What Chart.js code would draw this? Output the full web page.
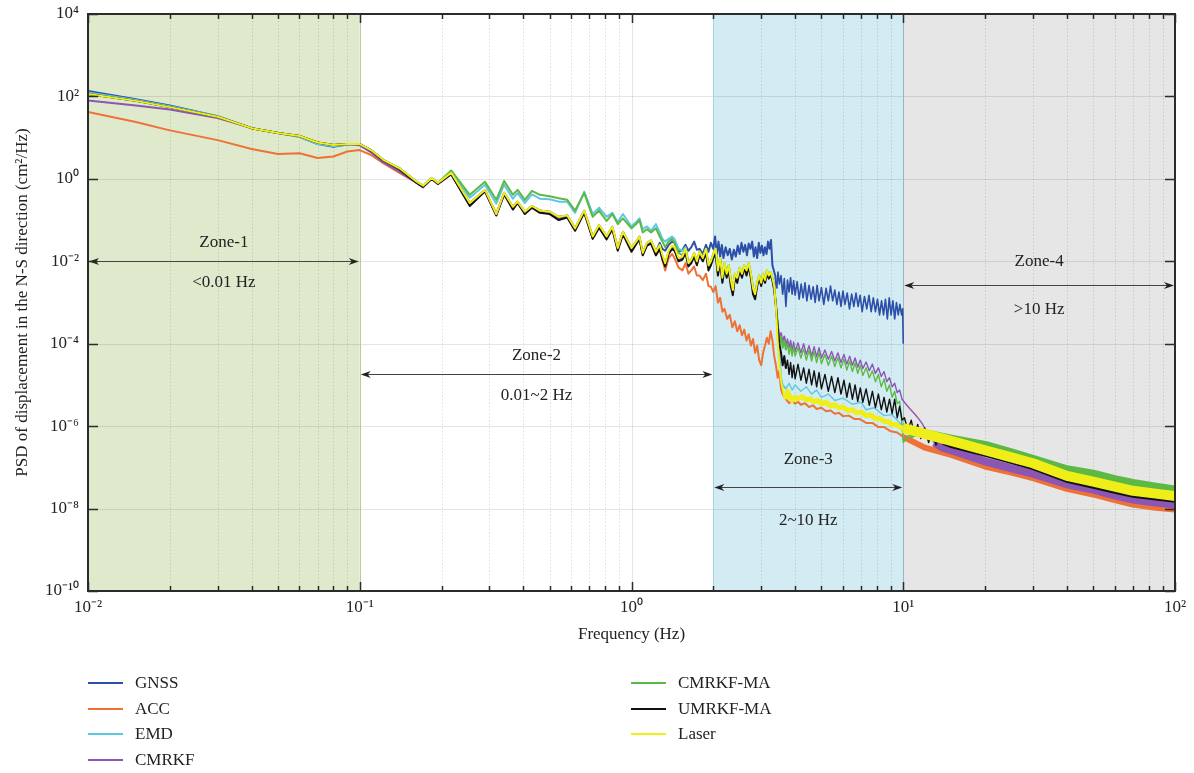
<!DOCTYPE html>
<html><head><meta charset="utf-8">
<script src="https://cdn.jsdelivr.net/npm/chart.js@4.4.0/dist/chart.umd.min.js"></script>
<style>
html,body{margin:0;padding:0;background:#fff;}
#wrap{position:relative;width:1194px;height:773px;overflow:hidden;}
canvas{position:absolute;left:0;top:0;}
.lg{position:absolute;font-family:"Liberation Serif","Times New Roman",serif;font-size:17px;color:#222;line-height:20px;white-space:nowrap;}
.sw{position:absolute;height:2px;width:35px;}
</style></head><body>
<div id="wrap"><canvas id="c" width="1194" height="773"></canvas><div id="legend"></div></div>
<script>
// ---------- DATA (frequency in Hz, PSD in cm^2/Hz) ----------
const SERIES_NAMES = ['GNSS','ACC','EMD','CMRKF','CMRKF-MA','UMRKF-MA','Laser'];
const SERIES_COLORS = ['#2c4fa8','#ee7236','#5ec8e2','#8c56b4','#5cb944','#111111','#f0ee18'];

const X_TICKS = [0.01,0.1,1,10,100];
const X_TICK_LABELS = ['10⁻²','10⁻¹','10⁰','10¹','10²'];
const Y_TICKS = [1e-10,1e-8,1e-6,1e-4,1e-2,1,1e2,1e4];
const Y_TICK_LABELS = ['10⁻¹⁰','10⁻⁸','10⁻⁶','10⁻⁴','10⁻²','10⁰','10²','10⁴'];

const ZONES = [
  {name:'Zone-1', range:'<0.01 Hz', from:0.01, to:0.1, arrowY:1e-2},
  {name:'Zone-2', range:'0.01~2 Hz', from:0.1, to:2, arrowY:1.84e-5},
  {name:'Zone-3', range:'2~10 Hz', from:2, to:10, arrowY:3.4e-8},
  {name:'Zone-4', range:'>10 Hz', from:10, to:100, arrowY:2.73e-3}
];

const GNSS = [
[0.01,135],[0.015,85],[0.02,60],[0.03,33],[0.04,17],[0.05,13],[0.06,10.5],[0.07,7],[0.08,6],[0.09,6.8],[0.1,7],
[0.11,5],[0.122,2.9],[0.14,1.8],[0.162,0.85],[0.171,0.68],[0.184,1.05],[0.194,0.8],[0.217,1.4],[0.254,0.26],[0.289,0.54],[0.318,0.14],[0.34,0.46],[0.366,0.21],[0.381,0.28],[0.405,0.16],[0.43,0.22],[0.46,0.17],[0.5,0.16],[0.54,0.12],[0.58,0.13],[0.62,0.063],[0.67,0.17],[0.72,0.04],[0.76,0.076],[0.81,0.04],[0.85,0.069],[0.89,0.021],[0.93,0.052],
[1.0,0.021],[1.04,0.03],[1.07,0.04],[1.1,0.016],[1.14,0.028],[1.18,0.032],[1.23,0.017],[1.27,0.028],[1.3,0.02],[1.33,0.018],[1.37,0.025],[1.41,0.03],[1.44,0.028],[1.49,0.017],[1.54,0.019],[1.58,0.025],[1.62,0.018],[1.66,0.022],[1.7,0.03],[1.74,0.019],[1.78,0.02],[1.83,0.015],[1.88,0.025],[1.92,0.017],[1.96,0.028],[2.0,0.02],
[2.03,0.04],[2.06,0.015],[2.09,0.03],[2.12,0.013],[2.15,0.025],[2.18,0.012],[2.22,0.022],[2.26,0.014],[2.3,0.02],[2.34,0.011],[2.38,0.019],[2.42,0.013],[2.46,0.024],[2.5,0.015],[2.54,0.028],[2.58,0.017],[2.62,0.025],[2.66,0.014],[2.7,0.027],[2.74,0.02],[2.78,0.03],[2.82,0.013],[2.86,0.022],[2.9,0.012],[2.94,0.028],[2.98,0.016],[3.02,0.024],[3.06,0.014],[3.1,0.022],[3.14,0.015],[3.18,0.03],[3.22,0.02],[3.26,0.033],[3.3,0.008],[3.34,0.006],
[3.38,0.0045],[3.42,0.0022],[3.46,0.0055],[3.5,0.0028],[3.55,0.0045],[3.6,0.0016],[3.65,0.0038],[3.7,0.0008],[3.75,0.0035],[3.8,0.0018],[3.85,0.004],[3.9,0.0016],[3.95,0.0034],[4.0,0.0015],[4.07,0.0032],[4.14,0.0012],[4.21,0.0028],[4.28,0.0013],[4.35,0.003],[4.42,0.0011],[4.5,0.0026],[4.58,0.0012],[4.66,0.0024],[4.74,0.001],[4.82,0.0026],[4.9,0.0011],[5.0,0.0023],[5.1,0.0009],[5.2,0.0022],[5.3,0.0011],[5.4,0.0025],[5.5,0.0011],[5.6,0.002],[5.7,0.0009],[5.8,0.0018],[5.9,0.0008],[6.0,0.0019],[6.1,0.0009],[6.22,0.0017],[6.34,0.0007],[6.46,0.0016],[6.58,0.0008],[6.7,0.0017],[6.82,0.0008],[6.94,0.0015],[7.06,0.0006],[7.2,0.0014],[7.34,0.0007],[7.48,0.0015],[7.62,0.0006],[7.76,0.0013],[7.9,0.0006],[8.04,0.0012],[8.18,0.0005],[8.32,0.0011],[8.46,0.0005],[8.6,0.0012],[8.74,0.0004],[8.88,0.0013],[9.02,0.0005],[9.16,0.0011],[9.3,0.0004],[9.44,0.001],[9.58,0.0005],[9.72,0.0009],[9.86,0.0005],[9.95,0.0007],[10,0.0001]
];

const ACC = [
[0.01,42],[0.015,24],[0.02,15],[0.03,8.7],[0.04,5.3],[0.05,4],[0.06,4.2],[0.07,3.2],[0.08,3.5],[0.09,4.6],[0.1,5],
[0.11,3.8],[0.122,2.4],[0.14,1.4],[0.162,0.8],[0.171,0.64],[0.184,1.0],[0.194,0.76],[0.217,1.3],[0.254,0.24],[0.289,0.5],[0.318,0.14],[0.34,0.44],[0.366,0.2],[0.381,0.27],[0.405,0.15],[0.43,0.21],[0.46,0.16],[0.5,0.15],[0.54,0.11],[0.58,0.12],[0.62,0.06],[0.67,0.16],[0.72,0.038],[0.76,0.072],[0.81,0.038],[0.85,0.065],[0.89,0.02],[0.93,0.05],
[1.0,0.02],[1.04,0.028],[1.07,0.036],[1.1,0.015],[1.14,0.025],[1.18,0.028],[1.23,0.014],[1.27,0.02],[1.3,0.011],[1.33,0.006],[1.37,0.012],[1.41,0.015],[1.44,0.012],[1.49,0.007],[1.54,0.006],[1.58,0.009],[1.62,0.005],[1.66,0.006],[1.7,0.0075],[1.74,0.0045],[1.78,0.0045],[1.83,0.0035],[1.88,0.005],[1.92,0.0025],[1.96,0.0024],[2.0,0.0018],
[2.04,0.0025],[2.08,0.001],[2.12,0.0013],[2.16,6e-4],[2.2,7e-4],[2.25,4e-4],[2.3,5e-4],[2.35,2.5e-4],[2.4,3.5e-4],[2.45,2e-4],[2.5,2.8e-4],[2.55,1.6e-4],[2.6,2.2e-4],[2.65,1.2e-4],[2.7,1.7e-4],[2.75,9e-5],[2.8,1.3e-4],[2.85,6e-5],[2.9,9e-5],[2.95,4e-5],[3.0,3e-5],[3.05,6e-5],[3.1,9e-5],[3.15,1.4e-4],[3.2,1e-4],[3.25,2e-4],[3.3,1.2e-4],[3.35,5e-5],[3.4,3e-5],[3.45,1.5e-5],[3.5,2.2e-5],[3.55,8e-6],[3.6,6e-6],[3.7,4.5e-6],
[3.8,3.6e-6],[3.9,4.2e-6],[4.0,3.5e-6],[4.1,3.9e-6],[4.2,3.3e-6],[4.35,3.6e-6],[4.5,2.9e-6],[4.65,3.2e-6],[4.8,2.6e-6],[5.0,2.8e-6],[5.2,2.3e-6],[5.4,2.4e-6],[5.6,2e-6],[5.8,2.1e-6],[6.0,1.75e-6],[6.3,1.8e-6],[6.6,1.5e-6],[6.9,1.5e-6],[7.3,1.2e-6],[7.7,1.2e-6],[8.1,9.5e-7],[8.5,9.5e-7],[9.0,7.5e-7],[9.5,7e-7],[10,5.5e-7],
[12,3e-7],[15,2e-7],[20,1.05e-7],[25,7.5e-8],[30,5.5e-8],[40,3e-8],[50,2.2e-8],[60,1.6e-8],[70,1.25e-8],[85,1.05e-8],[100,9.5e-9]
];

const EMD = [
[0.01,125],[0.015,82],[0.02,58],[0.03,33],[0.04,17],[0.05,13],[0.06,10.5],[0.07,7],[0.08,6.2],[0.09,6.8],[0.1,7],
[0.11,5],[0.122,2.9],[0.14,1.8],[0.162,0.85],[0.171,0.68],[0.184,1.05],[0.194,0.8],[0.217,1.5],[0.254,0.35],[0.289,0.72],[0.318,0.25],[0.34,0.72],[0.366,0.33],[0.381,0.45],[0.405,0.26],[0.43,0.42],[0.46,0.33],[0.5,0.32],[0.54,0.28],[0.58,0.28],[0.62,0.15],[0.67,0.49],[0.72,0.14],[0.76,0.2],[0.81,0.12],[0.85,0.15],[0.89,0.09],[0.93,0.14],
[1.0,0.07],[1.04,0.09],[1.07,0.11],[1.1,0.06],[1.14,0.07],[1.18,0.055],[1.23,0.08],[1.27,0.05],[1.3,0.035],[1.33,0.03],[1.37,0.035],[1.41,0.04],[1.44,0.035],[1.49,0.02],[1.54,0.018],[1.58,0.022],[1.62,0.01],[1.66,0.011],[1.7,0.016],[1.74,0.01],[1.78,0.017],[1.83,0.012],[1.88,0.02],[1.92,0.008],[1.96,0.01],[2.0,0.015],
[2.04,0.02],[2.08,0.006],[2.12,0.012],[2.16,0.004],[2.2,0.009],[2.24,0.005],[2.28,0.008],[2.32,0.0035],[2.36,0.002],[2.4,0.005],[2.45,0.004],[2.5,0.007],[2.55,0.005],[2.6,0.008],[2.65,0.006],[2.7,0.009],[2.75,0.005],[2.8,0.0022],[2.85,0.0016],[2.9,0.003],[2.95,0.0045],[3.0,0.003],[3.05,0.005],[3.1,0.0035],[3.15,0.006],[3.2,0.0045],[3.25,0.0055],[3.3,0.004],[3.35,0.0025],[3.4,8e-4],[3.45,2e-4],[3.5,6e-5],[3.55,1.5e-5],[3.6,1e-5],[3.7,8e-6],
[3.8,1.1e-5],[3.9,7.5e-6],[4.0,1e-5],[4.2,7e-6],[4.4,9e-6],[4.6,6e-6],[4.8,7.5e-6],[5.0,5e-6],[5.3,6e-6],[5.6,4.2e-6],[6.0,4.8e-6],[6.5,3.4e-6],[7.0,3.8e-6],[7.3,2.5e-6],[7.8,2.8e-6],[8.5,1.8e-6],[9.1,1.9e-6],[9.7,1.2e-6],[10,1e-6],
[12,6.4e-7],[15,4.3e-7],[20,2.5e-7],[25,1.7e-7],[30,1.22e-7],[40,6e-8],[50,4.4e-8],[60,3.3e-8],[70,2.6e-8],[85,2.2e-8],[100,1.9e-8]
];

const CMRKF = [
[0.01,80],[0.015,60],[0.02,48],[0.03,30],[0.04,17],[0.05,13],[0.06,11],[0.07,7.6],[0.08,6.6],[0.09,7],[0.1,6.5],
[0.11,4.4],[0.122,2.5],[0.14,1.5],[0.162,0.8],[0.171,0.62],[0.184,1.0],[0.194,0.74],[0.217,1.3],[0.254,0.24],[0.289,0.5],[0.318,0.13],[0.34,0.43],[0.366,0.2],[0.381,0.26],[0.405,0.15],[0.43,0.2],[0.46,0.16],[0.5,0.15],[0.54,0.11],[0.58,0.12],[0.62,0.06],[0.67,0.16],[0.72,0.037],[0.76,0.07],[0.81,0.037],[0.85,0.064],[0.89,0.02],[0.93,0.048],
[1.0,0.02],[1.04,0.028],[1.07,0.037],[1.1,0.015],[1.14,0.026],[1.18,0.03],[1.23,0.016],[1.27,0.023],[1.3,0.013],[1.33,0.0085],[1.37,0.017],[1.41,0.022],[1.44,0.02],[1.49,0.011],[1.54,0.012],[1.58,0.018],[1.62,0.0085],[1.66,0.01],[1.7,0.015],[1.74,0.0095],[1.78,0.016],[1.83,0.011],[1.88,0.018],[1.92,0.0075],[1.96,0.0095],[2.0,0.014],
[2.04,0.018],[2.08,0.0055],[2.12,0.011],[2.16,0.0037],[2.2,0.0083],[2.24,0.0046],[2.28,0.0074],[2.32,0.0032],[2.36,0.0019],[2.4,0.0046],[2.45,0.0037],[2.5,0.0064],[2.55,0.0046],[2.6,0.0074],[2.65,0.0055],[2.7,0.0083],[2.75,0.0046],[2.8,0.002],[2.85,0.0015],[2.9,0.0028],[2.95,0.0041],[3.0,0.0028],[3.05,0.0046],[3.1,0.0032],[3.15,0.0055],[3.2,0.0041],[3.25,0.005],[3.3,0.0037],[3.35,0.0023],[3.4,8e-4],[3.45,3e-4],[3.5,1.4e-4],[3.55,1.8e-4],[3.6,1e-4],[3.65,1.5e-4],[3.7,9e-5],
[3.75,1.3e-4],[3.8,8e-5],[3.85,1.2e-4],[3.9,7e-5],[3.95,1.1e-4],[4.0,6.5e-5],[4.1,1.05e-4],[4.2,6e-5],[4.3,1e-4],[4.4,5.5e-5],[4.5,9e-5],[4.6,5e-5],[4.7,8.5e-5],[4.8,4.8e-5],[4.9,8e-5],[5.0,4.5e-5],[5.15,7e-5],[5.3,4.2e-5],[5.45,6.5e-5],[5.6,3.8e-5],[5.75,6e-5],[5.9,3.5e-5],[6.05,5.5e-5],[6.2,3.2e-5],[6.35,5e-5],[6.5,3e-5],[6.65,4.5e-5],[6.8,2.7e-5],[6.95,4e-5],[7.1,2.5e-5],[7.3,3.6e-5],[7.5,2.2e-5],[7.7,3.2e-5],[7.9,1.9e-5],[8.1,2.6e-5],[8.3,1.6e-5],[8.5,2.1e-5],[8.7,1.2e-5],[8.9,1.5e-5],[9.1,9e-6],[9.3,1.1e-5],[9.5,6.5e-6],[9.7,7.5e-6],[9.9,4.5e-6],
[10.2,3.5e-6],[10.6,2.6e-6],[11,2e-6],[11.4,1.5e-6],[11.8,1.1e-6],[12.2,7e-7],[13,4e-7],[14,3e-7],[15,2.6e-7],[20,1.4e-7],[25,9.5e-8],[30,7e-8],[40,3.9e-8],[50,2.9e-8],[60,2.1e-8],[70,1.65e-8],[85,1.4e-8],[100,1.25e-8]
];

const CMRKF_MA = [
[0.01,115],[0.015,78],[0.02,55],[0.03,32],[0.04,17],[0.05,13],[0.06,11],[0.07,7.6],[0.08,6.6],[0.09,7],[0.1,7],
[0.11,5],[0.122,2.9],[0.14,1.8],[0.162,0.85],[0.171,0.68],[0.184,1.05],[0.194,0.8],[0.217,1.6],[0.254,0.41],[0.289,0.85],[0.318,0.31],[0.34,0.89],[0.366,0.41],[0.381,0.54],[0.405,0.31],[0.43,0.51],[0.46,0.41],[0.5,0.38],[0.54,0.34],[0.58,0.31],[0.62,0.17],[0.67,0.45],[0.72,0.12],[0.76,0.17],[0.81,0.095],[0.85,0.14],[0.89,0.08],[0.93,0.11],
[1.0,0.063],[1.04,0.08],[1.07,0.1],[1.1,0.05],[1.14,0.06],[1.18,0.05],[1.23,0.063],[1.27,0.04],[1.3,0.03],[1.33,0.022],[1.37,0.03],[1.41,0.035],[1.44,0.028],[1.49,0.016],[1.54,0.014],[1.58,0.02],[1.62,0.009],[1.66,0.011],[1.7,0.016],[1.74,0.01],[1.78,0.017],[1.83,0.012],[1.88,0.02],[1.92,0.008],[1.96,0.01],[2.0,0.015],
[2.04,0.02],[2.08,0.006],[2.12,0.012],[2.16,0.004],[2.2,0.009],[2.24,0.005],[2.28,0.008],[2.32,0.0035],[2.36,0.002],[2.4,0.005],[2.45,0.004],[2.5,0.007],[2.55,0.005],[2.6,0.008],[2.65,0.006],[2.7,0.009],[2.75,0.005],[2.8,0.0022],[2.85,0.0016],[2.9,0.003],[2.95,0.0045],[3.0,0.003],[3.05,0.005],[3.1,0.0035],[3.15,0.006],[3.2,0.0045],[3.25,0.0055],[3.3,0.004],[3.35,0.0025],[3.4,8e-4],[3.45,3e-4],[3.5,1e-4],[3.55,1.5e-4],[3.6,8e-5],[3.65,1.2e-4],[3.7,7e-5],
[3.75,1e-4],[3.8,5.5e-5],[3.85,9e-5],[3.9,5e-5],[3.95,8.5e-5],[4.0,5e-5],[4.1,8e-5],[4.2,4.5e-5],[4.3,7.5e-5],[4.4,4e-5],[4.5,7e-5],[4.6,3.8e-5],[4.7,6.5e-5],[4.8,3.5e-5],[4.9,6e-5],[5.0,3.3e-5],[5.15,5.5e-5],[5.3,3e-5],[5.45,5e-5],[5.6,2.8e-5],[5.75,4.6e-5],[5.9,2.6e-5],[6.05,4.2e-5],[6.2,2.3e-5],[6.35,3.8e-5],[6.5,2.1e-5],[6.65,3.4e-5],[6.8,1.9e-5],[6.95,3e-5],[7.1,1.7e-5],[7.3,2.6e-5],[7.5,1.5e-5],[7.7,2.2e-5],[7.9,1.2e-5],[8.1,1.8e-5],[8.3,9e-6],[8.5,1.4e-5],[8.7,7e-6],[8.9,1e-5],[9.1,5e-6],[9.3,7e-6],[9.5,3.5e-6],[9.7,4e-6],[9.85,1.5e-6],[10,4e-7],
[10.5,6e-7],[11,7e-7],[12,6.8e-7],[15,5e-7],[20,3.5e-7],[25,2.3e-7],[30,1.6e-7],[40,9e-8],[50,7e-8],[60,5.2e-8],[70,4.2e-8],[85,3.4e-8],[100,2.9e-8]
];

const UMRKF_MA = [
[0.01,115],[0.015,78],[0.02,55],[0.03,32],[0.04,17],[0.05,13],[0.06,11],[0.07,7.6],[0.08,6.6],[0.09,7],[0.1,7],
[0.11,4.9],[0.122,2.8],[0.14,1.7],[0.162,0.8],[0.171,0.64],[0.184,1.0],[0.194,0.76],[0.217,1.3],[0.254,0.22],[0.289,0.5],[0.318,0.13],[0.34,0.42],[0.366,0.18],[0.381,0.26],[0.405,0.14],[0.43,0.2],[0.46,0.15],[0.5,0.14],[0.54,0.1],[0.58,0.115],[0.62,0.055],[0.67,0.15],[0.72,0.035],[0.76,0.065],[0.81,0.034],[0.85,0.06],[0.89,0.018],[0.93,0.045],
[1.0,0.017],[1.04,0.026],[1.07,0.034],[1.1,0.014],[1.14,0.024],[1.18,0.027],[1.23,0.014],[1.27,0.02],[1.3,0.011],[1.33,0.0075],[1.37,0.015],[1.41,0.02],[1.44,0.018],[1.49,0.01],[1.54,0.011],[1.58,0.016],[1.62,0.0075],[1.66,0.009],[1.7,0.013],[1.74,0.008],[1.78,0.014],[1.83,0.01],[1.88,0.016],[1.92,0.006],[1.96,0.008],[2.0,0.012],
[2.04,0.015],[2.08,0.0045],[2.12,0.01],[2.16,0.003],[2.2,0.007],[2.24,0.004],[2.28,0.006],[2.32,0.0025],[2.36,0.0015],[2.4,0.004],[2.45,0.003],[2.5,0.006],[2.55,0.004],[2.6,0.007],[2.65,0.0045],[2.7,0.0075],[2.75,0.004],[2.8,0.0016],[2.85,0.0012],[2.9,0.0025],[2.95,0.004],[3.0,0.0025],[3.05,0.0042],[3.1,0.003],[3.15,0.005],[3.2,0.0038],[3.25,0.0048],[3.3,0.0035],[3.35,0.002],[3.4,9e-4],[3.45,2.5e-4],[3.5,1e-4],[3.55,6e-5],[3.6,3e-5],[3.65,5e-5],[3.7,2.5e-5],
[3.75,4e-5],[3.8,1.8e-5],[3.85,3.5e-5],[3.9,1.5e-5],[3.95,3e-5],[4.0,1.4e-5],[4.1,3.2e-5],[4.2,1.3e-5],[4.3,2.6e-5],[4.4,1.1e-5],[4.5,2.4e-5],[4.6,1e-5],[4.7,2.2e-5],[4.8,9e-6],[4.9,2e-5],[5.0,8e-6],[5.15,1.8e-5],[5.3,7e-6],[5.45,1.6e-5],[5.6,6.5e-6],[5.75,1.5e-5],[5.9,6e-6],[6.05,1.3e-5],[6.2,5e-6],[6.35,1.1e-5],[6.5,4.5e-6],[6.65,1e-5],[6.8,4e-6],[6.95,8.5e-6],[7.1,3.8e-6],[7.3,8e-6],[7.5,3.2e-6],[7.7,7e-6],[7.9,2.8e-6],[8.1,6e-6],[8.3,2.5e-6],[8.5,5e-6],[8.7,2.2e-6],[8.9,4.5e-6],[9.1,2e-6],[9.3,4.5e-6],[9.5,1.6e-6],[9.7,3e-6],[9.9,1.4e-6],
[10.1,1.6e-6],[10.4,8e-7],[10.7,1.4e-6],[11,6e-7],[11.3,1.1e-6],[11.6,5e-7],[12,9e-7],[12.4,4e-7],[12.8,7e-7],[13.2,3.5e-7],[13.6,5.5e-7],[14,3.8e-7],[15,3.2e-7],[20,1.95e-7],[25,1.3e-7],[30,9.3e-8],[40,4.6e-8],[50,3.3e-8],[60,2.5e-8],[70,2e-8],[85,1.7e-8],[100,1.5e-8]
];

const LASER = [
[0.01,115],[0.015,78],[0.02,55],[0.03,32],[0.04,17],[0.05,13],[0.06,11],[0.07,7.6],[0.08,6.6],[0.09,7],[0.1,7],
[0.11,5],[0.122,2.9],[0.14,1.8],[0.162,0.85],[0.171,0.68],[0.184,1.05],[0.194,0.8],[0.217,1.4],[0.254,0.26],[0.289,0.54],[0.318,0.14],[0.34,0.46],[0.366,0.21],[0.381,0.28],[0.405,0.16],[0.43,0.22],[0.46,0.17],[0.5,0.16],[0.54,0.12],[0.58,0.13],[0.62,0.063],[0.67,0.17],[0.72,0.04],[0.76,0.076],[0.81,0.04],[0.85,0.069],[0.89,0.021],[0.93,0.052],
[1.0,0.021],[1.04,0.03],[1.07,0.04],[1.1,0.016],[1.14,0.028],[1.18,0.032],[1.23,0.017],[1.27,0.025],[1.3,0.014],[1.33,0.009],[1.37,0.018],[1.41,0.024],[1.44,0.022],[1.49,0.012],[1.54,0.013],[1.58,0.02],[1.62,0.009],[1.66,0.011],[1.7,0.016],[1.74,0.01],[1.78,0.017],[1.83,0.012],[1.88,0.02],[1.92,0.008],[1.96,0.01],[2.0,0.015],
[2.04,0.02],[2.08,0.006],[2.12,0.012],[2.16,0.004],[2.2,0.009],[2.24,0.005],[2.28,0.008],[2.32,0.0035],[2.36,0.002],[2.4,0.005],[2.45,0.004],[2.5,0.007],[2.55,0.005],[2.6,0.008],[2.65,0.006],[2.7,0.009],[2.75,0.005],[2.8,0.0022],[2.85,0.0016],[2.9,0.003],[2.95,0.0045],[3.0,0.003],[3.05,0.005],[3.1,0.0035],[3.15,0.006],[3.2,0.0045],[3.25,0.0055],[3.3,0.004],[3.35,0.0025],[3.4,8e-4],[3.45,1.2e-4],[3.5,3e-5],[3.55,1.3e-5],[3.6,8e-6],[3.65,5e-6],[3.7,4.5e-6],
[3.75,7e-6],[3.8,5.5e-6],[3.9,4.2e-6],[4.0,5e-6],[4.1,4.6e-6],[4.25,5.2e-6],[4.4,4.3e-6],[4.55,4.6e-6],[4.7,3.9e-6],[4.85,4.2e-6],[5.0,3.5e-6],[5.2,3.8e-6],[5.4,3.1e-6],[5.6,3.3e-6],[5.8,2.8e-6],[6.0,2.9e-6],[6.25,2.4e-6],[6.5,2.5e-6],[6.75,2.1e-6],[7.0,2.2e-6],[7.3,1.8e-6],[7.6,1.9e-6],[7.9,1.5e-6],[8.2,1.55e-6],[8.5,1.3e-6],[8.8,1.3e-6],[9.1,1.1e-6],[9.4,1.1e-6],[9.7,9.5e-7],[10,9e-7],
[12,6.5e-7],[15,4.4e-7],[20,2.6e-7],[25,1.75e-7],[30,1.26e-7],[40,6.2e-8],[50,4.5e-8],[60,3.4e-8],[70,2.7e-8],[85,2.3e-8],[100,2e-8]
];

const SERIES_DATA = [GNSS, ACC, EMD, CMRKF, CMRKF_MA, UMRKF_MA, LASER];

// ---------- STYLE ----------
const FONT = '"Liberation Serif","Times New Roman",serif';
const TEXT_COLOR = '#222';
// line width per series: [low, mid, high] and frequencies where mid / high widths begin
const WIDTHS = [[2,1.6,1.6],[2,2,6],[2,1.4,6],[2,1.4,8],[2,1.4,8],[2,1.4,3],[2,5,10]];
const WIDTH_BREAKS = [[3.4,100],[3.7,10],[3.7,10],[3.7,12.6],[3.7,10.5],[3.7,14],[3.7,10]];
function widthFor(i, f){
  const w = WIDTHS[i], b = WIDTH_BREAKS[i];
  return f >= b[1] ? w[2] : (f >= b[0] ? w[1] : w[0]);
}
const ZONE_COLORS = ['#dfeacd', null, '#d3ebf3', '#e6e6e6'];
const ZONE_EDGE = ['#b9cba3', null, '#a9d3e1', '#9fb4bc'];
// text offsets above/below the arrow (px)
const ZONE_TEXT_OFFSETS = [[19,21],[19,21],[28,33],[24,24]];

function drawArrowHead(ctx, x, y, dir){
  const L = 10, W = 3.5, N = 3;
  ctx.beginPath();
  ctx.moveTo(x, y);
  ctx.lineTo(x - dir*L, y - W);
  ctx.lineTo(x - dir*(L-N), y);
  ctx.lineTo(x - dir*L, y + W);
  ctx.closePath();
  ctx.fill();
}

const decorPlugin = {
  id: 'decor',
  beforeDatasetsDraw(chart){
    const {ctx, chartArea:a, scales:{x, y}} = chart;
    ctx.save();
    ZONES.forEach((z, i) => {
      if (!ZONE_COLORS[i]) return;
      const x0 = x.getPixelForValue(z.from), x1 = x.getPixelForValue(z.to);
      ctx.fillStyle = ZONE_COLORS[i];
      ctx.fillRect(x0, a.top, x1 - x0, a.bottom - a.top);
    });
    ctx.strokeStyle = 'rgba(0,0,0,0.12)';
    ctx.lineWidth = 1;
    ctx.setLineDash([1.5, 2]);
    for (let d = 0; d < X_TICKS.length - 1; d++) {
      for (let m = 2; m <= 9; m++) {
        const px = Math.round(x.getPixelForValue(X_TICKS[d] * m)) + 0.5;
        ctx.beginPath(); ctx.moveTo(px, a.top); ctx.lineTo(px, a.bottom); ctx.stroke();
      }
    }
    ctx.setLineDash([]);
    ctx.strokeStyle = 'rgba(0,0,0,0.1)';
    X_TICKS.forEach(v => {
      const px = Math.round(x.getPixelForValue(v)) + 0.5;
      ctx.beginPath(); ctx.moveTo(px, a.top); ctx.lineTo(px, a.bottom); ctx.stroke();
    });
    Y_TICKS.forEach(v => {
      const py = Math.round(y.getPixelForValue(v)) + 0.5;
      ctx.beginPath(); ctx.moveTo(a.left, py); ctx.lineTo(a.right, py); ctx.stroke();
    });
    ZONES.forEach((z, i) => {
      if (!ZONE_EDGE[i]) return;
      ctx.strokeStyle = ZONE_EDGE[i];
      [z.from, z.to].forEach(v => {
        if (v <= 0.01 || v >= 100) return;
        const px = Math.round(x.getPixelForValue(v)) + 0.5;
        ctx.beginPath(); ctx.moveTo(px, a.top); ctx.lineTo(px, a.bottom); ctx.stroke();
      });
    });
    ctx.restore();
  },
  afterDatasetsDraw(chart){
    const {ctx, chartArea:a, scales:{x, y}} = chart;
    ctx.save();
    ctx.font = '17px ' + FONT;
    ctx.textAlign = 'center';
    ctx.textBaseline = 'middle';
    ZONES.forEach((z, i) => {
      const x0 = x.getPixelForValue(z.from) + 1, x1 = x.getPixelForValue(z.to) - 1;
      const py = Math.round(y.getPixelForValue(z.arrowY)) + 0.5;
      ctx.strokeStyle = '#444'; ctx.fillStyle = '#222'; ctx.lineWidth = 1;
      ctx.beginPath(); ctx.moveTo(x0 + 4, py); ctx.lineTo(x1 - 4, py); ctx.stroke();
      drawArrowHead(ctx, x0, py, -1);
      drawArrowHead(ctx, x1, py, 1);
      const cx = (x0 + x1) / 2;
      ctx.fillStyle = TEXT_COLOR;
      ctx.fillText(z.name, cx, py - ZONE_TEXT_OFFSETS[i][0]);
      ctx.fillText(z.range, cx, py + ZONE_TEXT_OFFSETS[i][1]);
    });
    ctx.strokeStyle = '#2b2b2b';
    ctx.lineWidth = 2;
    ctx.strokeRect(a.left, a.top, a.right - a.left, a.bottom - a.top);
    ctx.lineWidth = 1.5;
    for (let d = 0; d < X_TICKS.length; d++) {
      const ms = d < X_TICKS.length - 1 ? [1,2,3,4,5,6,7,8,9] : [1];
      ms.forEach(m => {
        const px = Math.round(x.getPixelForValue(X_TICKS[d] * m)) + 0.5;
        const len = m === 1 ? 9 : 5;
        ctx.beginPath();
        ctx.moveTo(px, a.bottom); ctx.lineTo(px, a.bottom - len);
        ctx.moveTo(px, a.top); ctx.lineTo(px, a.top + len);
        ctx.stroke();
      });
    }
    Y_TICKS.forEach(v => {
      const py = Math.round(y.getPixelForValue(v)) + 0.5;
      ctx.beginPath();
      ctx.moveTo(a.left, py); ctx.lineTo(a.left + 10, py);
      ctx.moveTo(a.right, py); ctx.lineTo(a.right - 10, py);
      ctx.stroke();
    });
    ctx.restore();
  }
};

new Chart(document.getElementById('c'), {
  type: 'line',
  data: {
    datasets: SERIES_DATA.map((d, i) => ({
      label: SERIES_NAMES[i],
      data: d.map(([f, v]) => ({x: f, y: v})),
      borderColor: SERIES_COLORS[i],
      backgroundColor: SERIES_COLORS[i],
      borderWidth: 2,
      borderJoinStyle: 'round',
      pointRadius: 0,
      tension: 0,
      fill: false,
      order: SERIES_DATA.length - i,
      segment: { borderWidth: c => widthFor(i, c.p0.parsed.x) }
    }))
  },
  options: {
    responsive: false,
    animation: false,
    devicePixelRatio: 1,
    events: [],
    layout: { padding: { left: 0, right: 19, top: 14, bottom: 122 } },
    plugins: { legend: { display: false }, tooltip: { enabled: false } },
    scales: {
      x: {
        type: 'logarithmic', min: 0.01, max: 100,
        grid: { display: false, drawTicks: false },
        border: { display: false },
        afterBuildTicks: sc => { sc.ticks = X_TICKS.map(v => ({ value: v })); },
        afterFit: sc => { sc.height = 60; sc.paddingLeft = 0; sc.paddingRight = 0; },
        ticks: { autoSkip: false, maxRotation: 0, padding: 6, color: TEXT_COLOR,
                 font: { family: FONT, size: 17 }, callback: (v, i) => X_TICK_LABELS[i] },
        title: { display: true, text: 'Frequency (Hz)', color: TEXT_COLOR,
                 font: { family: FONT, size: 17 }, padding: { top: 0, bottom: 6 } }
      },
      y: {
        type: 'logarithmic', min: 1e-10, max: 1e4,
        grid: { display: false, drawTicks: false },
        border: { display: false },
        afterBuildTicks: sc => { sc.ticks = Y_TICKS.map(v => ({ value: v })); },
        afterFit: sc => { sc.width = 88; sc.paddingTop = 0; sc.paddingBottom = 0; },
        ticks: { autoSkip: false, padding: 9, color: TEXT_COLOR,
                 font: { family: FONT, size: 17 }, callback: (v, i) => Y_TICK_LABELS[i] },
        title: { display: true, text: 'PSD of displacement in the N-S direction (cm²/Hz)', color: TEXT_COLOR,
                 font: { family: FONT, size: 17 }, padding: { top: 12, bottom: 4 } }
      }
    }
  },
  plugins: [decorPlugin]
});

// ---------- LEGEND (HTML) ----------
const legend = document.getElementById('legend');
const LEG_COLS = [[0,1,2,3],[4,5,6]];
const LEG_X = [88, 631];
LEG_COLS.forEach((col, ci) => {
  col.forEach((si, r) => {
    const cy = 683 + r * 25.5;
    const sw = document.createElement('div');
    sw.className = 'sw';
    sw.style.left = LEG_X[ci] + 'px';
    sw.style.top = (cy - 1) + 'px';
    sw.style.background = SERIES_COLORS[si];
    legend.appendChild(sw);
    const t = document.createElement('div');
    t.className = 'lg';
    t.style.left = (LEG_X[ci] + 47) + 'px';
    t.style.top = (cy - 10) + 'px';
    t.textContent = SERIES_NAMES[si];
    legend.appendChild(t);
  });
});
</script>
</body></html>
